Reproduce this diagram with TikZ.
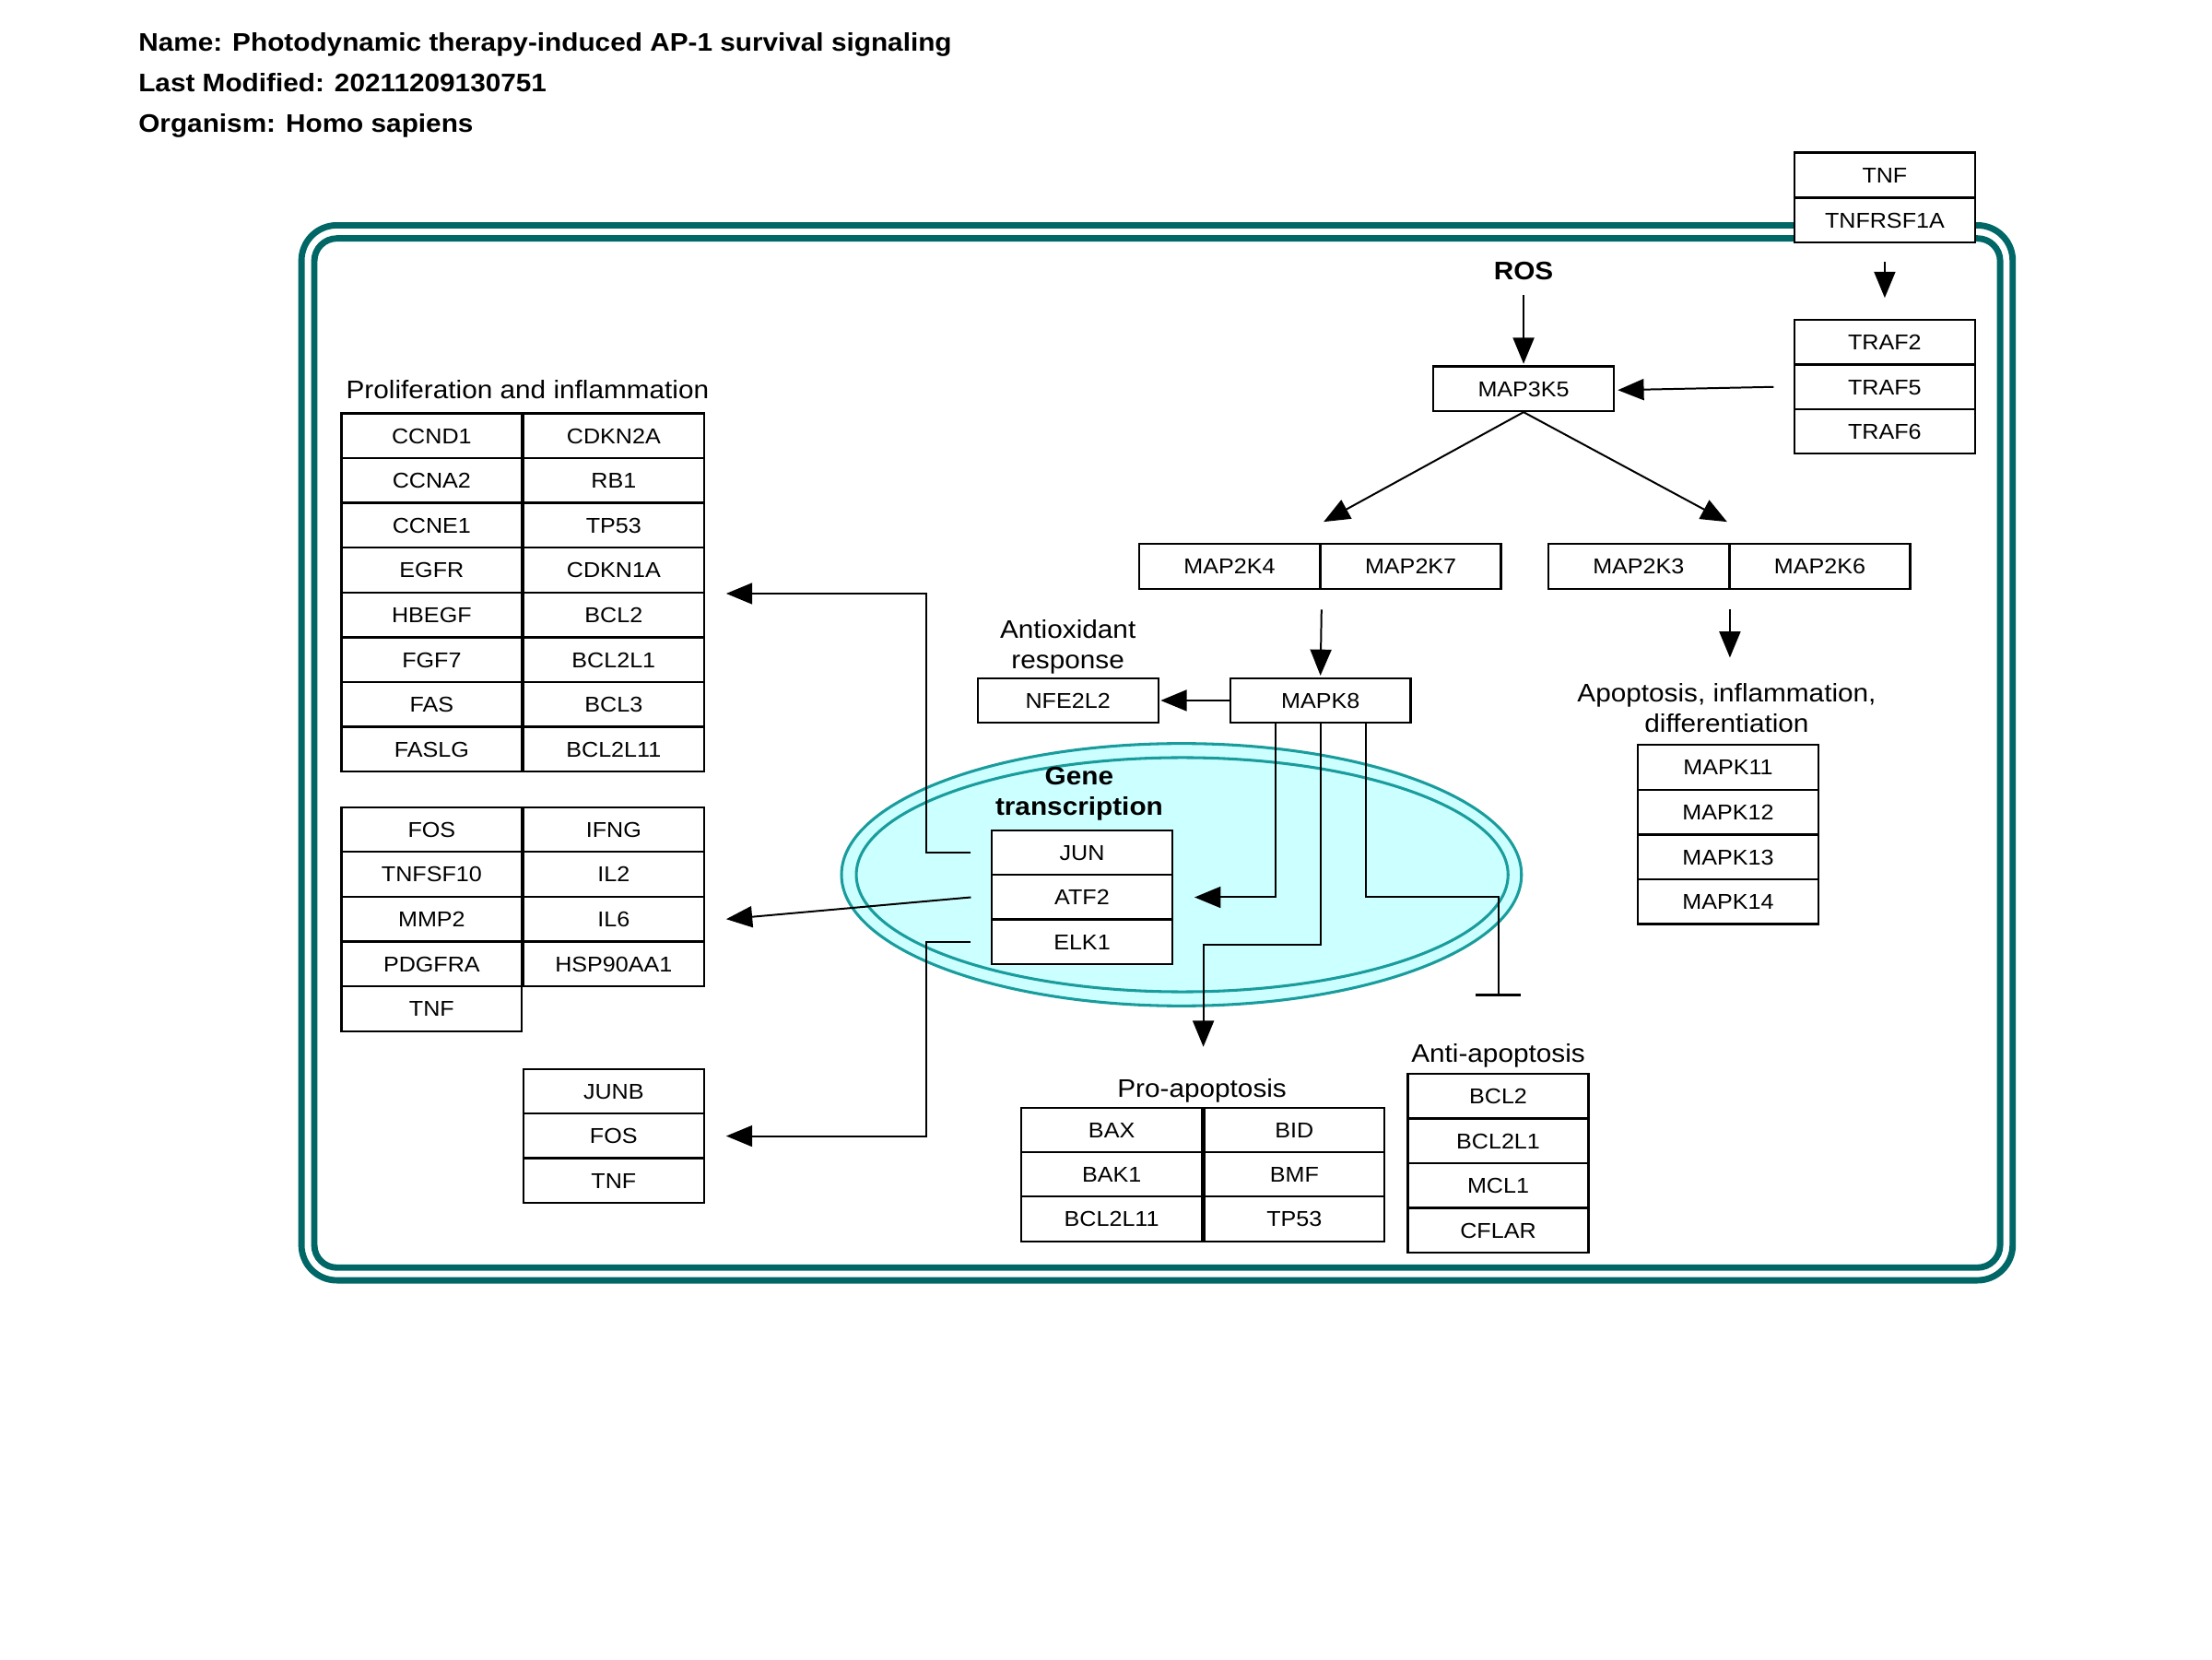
\documentclass[tikz,border=0pt]{standalone}
\usepackage{fontspec}
\setmainfont{Liberation Sans}[FakeStretch=1.08]
\usetikzlibrary{arrows.meta,calc}
\definecolor{cellteal}{HTML}{006666}
\definecolor{nucfill}{HTML}{CCFFFF}
\definecolor{nucline}{HTML}{1A9C9C}
\begin{document}
\begin{tikzpicture}[x=1pt,y=-1pt,
  gene/.style={draw=black, fill=white, line width=1.5pt, minimum width=128pt, minimum height=31.75pt,
    inner sep=0pt, text height=10.9pt, text depth=0pt, font=\fontsize{15.2}{17}\selectfont},
  lbl/.style={align=center, inner sep=0pt, font=\fontsize{18}{21.3}\selectfont},
  blbl/.style={align=center, inner sep=0pt, font=\fontsize{18}{21.3}\selectfont\bfseries},
  ttl/.style={anchor=base west, inner sep=0pt, font=\fontsize{18}{21}\selectfont\bfseries},
  conn/.style={line width=1.3pt, draw=black},
  act/.style={conn, -{Triangle[length=18.5pt,width=15pt]}},
  inh/.style={conn, -{Bar[width=32pt,line width=1.5pt]}},
  membrane/.style={draw=cellteal, line width=4.5pt}
  ]
\useasboundingbox (0,0) rectangle (1568,1176);

% title
\node[ttl] (t1) at (98,36) {Name: Photodynamic therapy-induced AP-1 survival signaling};
\node[ttl] (t2) at (98,65) {Last Modified: 20211209130751};
\node[ttl] (t3) at (98,94) {Organism: Homo sapiens};

% cell membrane
\draw[membrane, rounded corners=25pt] (213.7,159.7) rectangle (1426.7,907.5);
\draw[membrane, rounded corners=16pt] (222.8,169) rectangle (1417.8,898.5);

% nucleus
\draw[nucline, fill=nucfill, line width=2pt] (837.5,620) ellipse [x radius=241pt, y radius=93pt];
\draw[nucline, line width=2pt] (838,620) ellipse [x radius=231pt, y radius=83pt];

% labels
\node[lbl, anchor=base] (prolif) at (374,282.5) {Proliferation and inflammation};
\node[lbl] (antiox) at (757,458.5) {Antioxidant\\response};
\node[lbl] (apopt) at (1224,501.7) {Apoptosis, inflammation,\\differentiation};
\node[blbl] (genetx) at (765,562.5) {Gene\\transcription};
\node[blbl, anchor=base] (ros) at (1080,198.6) {ROS};
\node[lbl, anchor=base] (proapo) at (852,778) {Pro-apoptosis};
\node[lbl, anchor=base] (antiapo) at (1062,753) {Anti-apoptosis};

% receptor / top
\node[gene] (TNFtop) at (1336,124) {TNF};
\node[gene] (TNFRSF1A) at (1336,156) {TNFRSF1A};
\node[gene] (TRAF2) at (1336,242.75) {TRAF2};
\node[gene] (TRAF5) at (1336,274.25) {TRAF5};
\node[gene] (TRAF6) at (1336,305.75) {TRAF6};
\node[gene] (MAP3K5) at (1080,275.5) {MAP3K5};
\node[gene] (MAP2K4) at (871.5,401.5) {MAP2K4};
\node[gene] (MAP2K7) at (1000,401.5) {MAP2K7};
\node[gene] (MAP2K3) at (1161.5,401.5) {MAP2K3};
\node[gene] (MAP2K6) at (1290,401.5) {MAP2K6};
\node[gene] (MAPK8) at (936,496.5) {MAPK8};
\node[gene] (NFE2L2) at (757,496.5) {NFE2L2};
\node[gene] (MAPK11) at (1225,543.9) {MAPK11};
\node[gene] (MAPK12) at (1225,575.6) {MAPK12};
\node[gene] (MAPK13) at (1225,607.4) {MAPK13};
\node[gene] (MAPK14) at (1225,639.1) {MAPK14};

% nucleus genes
\node[gene] (JUN) at (767,604.5) {JUN};
\node[gene] (ATF2) at (767,636) {ATF2};
\node[gene] (ELK1) at (767,667.5) {ELK1};

% proliferation group
\node[gene] (CCND1) at (306,308.9) {CCND1};
\node[gene] (CDKN2A) at (435,308.9) {CDKN2A};
\node[gene] (CCNA2) at (306,340.6) {CCNA2};
\node[gene] (RB1) at (435,340.6) {RB1};
\node[gene] (CCNE1) at (306,372.4) {CCNE1};
\node[gene] (TP53a) at (435,372.4) {TP53};
\node[gene] (EGFR) at (306,404.1) {EGFR};
\node[gene] (CDKN1A) at (435,404.1) {CDKN1A};
\node[gene] (HBEGF) at (306,435.9) {HBEGF};
\node[gene] (BCL2a) at (435,435.9) {BCL2};
\node[gene] (FGF7) at (306,467.6) {FGF7};
\node[gene] (BCL2L1a) at (435,467.6) {BCL2L1};
\node[gene] (FAS) at (306,499.4) {FAS};
\node[gene] (BCL3) at (435,499.4) {BCL3};
\node[gene] (FASLG) at (306,531.1) {FASLG};
\node[gene] (BCL2L11a) at (435,531.1) {BCL2L11};

% second group
\node[gene] (FOSa) at (306,588) {FOS};
\node[gene] (IFNG) at (435,588) {IFNG};
\node[gene] (TNFSF10) at (306,619.75) {TNFSF10};
\node[gene] (IL2) at (435,619.75) {IL2};
\node[gene] (MMP2) at (306,651.5) {MMP2};
\node[gene] (IL6) at (435,651.5) {IL6};
\node[gene] (PDGFRA) at (306,683.25) {PDGFRA};
\node[gene] (HSP90AA1) at (435,683.25) {HSP90AA1};
\node[gene] (TNFa) at (306,715) {TNF};

% third group
\node[gene] (JUNB) at (435,773.75) {JUNB};
\node[gene] (FOSb) at (435,805.25) {FOS};
\node[gene] (TNFb) at (435,836.75) {TNF};

% pro-apoptosis
\node[gene] (BAX) at (788,801) {BAX};
\node[gene] (BID) at (917.5,801) {BID};
\node[gene] (BAK1) at (788,832.5) {BAK1};
\node[gene] (BMF) at (917.5,832.5) {BMF};
\node[gene] (BCL2L11b) at (788,864) {BCL2L11};
\node[gene] (TP53b) at (917.5,864) {TP53};

% anti-apoptosis
\node[gene] (BCL2b) at (1062,776.9) {BCL2};
\node[gene] (BCL2L1b) at (1062,808.6) {BCL2L1};
\node[gene] (MCL1) at (1062,840.4) {MCL1};
\node[gene] (CFLAR) at (1062,872.1) {CFLAR};

% helper coordinates
\coordinate (junbend) at (656.6,604.5);
\coordinate (elkbend) at (656.6,667.5);
\coordinate (probend) at (853,669.5);
\coordinate (protip) at (853,742);
\coordinate (antibend) at (1062,636);
\coordinate (antitip) at (1062,706);

% connectors
\draw[act] ($(TNFRSF1A.south)+(0,13)$) -- ($(TRAF2.north)+(0,-15)$);
\draw[act] ($(TRAF5.west)+(-14,0)$) -- ($(MAP3K5.east)+(2,1)$);
\draw[act] ($(ros.south)+(0,10)$) -- ($(MAP3K5.north)+(0,-1)$);
\draw[act] (MAP3K5.south) -- ($(MAP2K4.north east)+(2,-15)$);
\draw[act] (MAP3K5.south) -- ($(MAP2K3.north east)+(-2,-15)$);
\draw[act] ($(MAP2K4.south east)+(0.5,14)$) -- ($(MAPK8.north)+(0,-1)$);
\draw[act] ($(MAP2K3.south east)+(0,14)$) -- ($(MAP2K3.south east)+(0,48)$);
\draw[act] (MAPK8.west) -- ($(NFE2L2.east)+(1,0)$);
\draw[act] ($(MAPK8.south)+(-32,0)$) |- ($(ATF2.east)+(15,0)$);
\draw[act] (MAPK8.south) |- (probend) -- (protip);
\draw[inh] ($(MAPK8.south)+(32,0)$) |- (antibend) -- (antitip);
\draw[act] ($(JUN.west)+(-14,0)$) -- (junbend) |- ($(CDKN1A.south east)+(15,0)$);
\draw[act] ($(ATF2.west)+(-14,0)$) -- ($(IL6.east)+(15,0)$);
\draw[act] ($(ELK1.west)+(-14,0)$) -- (elkbend) |- ($(FOSb.east)+(15,0)$);
\end{tikzpicture}
\end{document}
